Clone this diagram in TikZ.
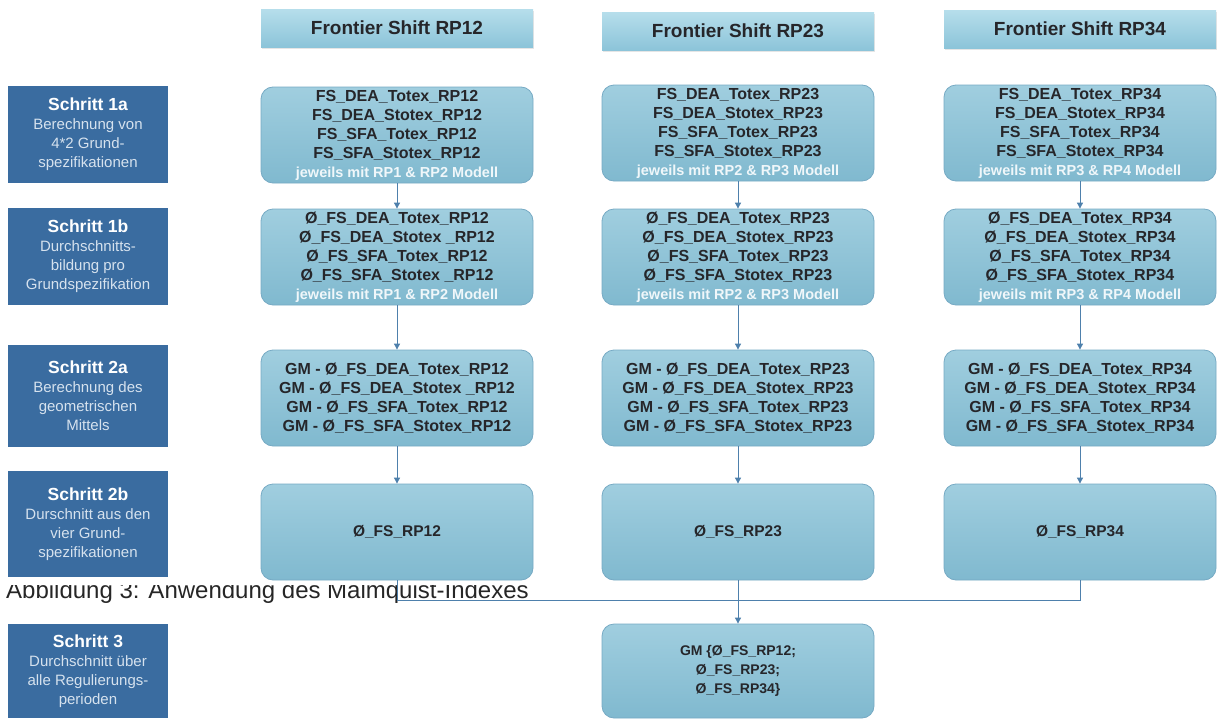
\documentclass[tikz,border=0pt]{standalone}
\usepackage{fontspec}
\setmainfont{Liberation Sans}
\usetikzlibrary{arrows.meta,shadows,calc}
\definecolor{stepblue}{RGB}{58,108,160}
\definecolor{stepsub}{RGB}{214,226,238}
\definecolor{headtop}{RGB}{182,222,235}
\definecolor{headbot}{RGB}{140,196,217}
\definecolor{bodytop}{RGB}{160,206,223}
\definecolor{bodybot}{RGB}{128,185,207}
\definecolor{bodyline}{RGB}{118,170,196}
\definecolor{arrowc}{RGB}{78,128,172}
\definecolor{txt}{RGB}{38,38,42}
\definecolor{jew}{RGB}{240,247,250}
\tikzset{
  stepbox/.style={rectangle, fill=stepblue, minimum width=160, minimum height=97,
    inner sep=0pt, align=center, text=white, font=\fontsize{15}{19}\selectfont},
  headbox/.style={rectangle, top color=headtop, bottom color=headbot,
    minimum width=272, minimum height=38, inner sep=0pt, text=txt,
    font=\fontsize{19}{22}\selectfont\bfseries,
    drop shadow={opacity=0.2, shadow xshift=1pt, shadow yshift=-2pt}},
  bodybox/.style={rectangle, rounded corners=12pt, top color=bodytop, bottom color=bodybot,
    draw=bodyline, line width=0.8pt, minimum width=272, minimum height=96, inner sep=0pt,
    align=center, text=txt, font=\fontsize{16}{19}\selectfont\bfseries},
  conn/.style={draw=arrowc, line width=0.9pt},
  arr/.style={conn, -{Triangle[length=6pt, width=6pt]}},
}
\newcommand{\myTitle}[1]{{\fontsize{17.5}{21}\selectfont\bfseries #1}}
\newcommand{\myJw}[1]{{\color{jew}\fontsize{14.5}{19}\selectfont #1}}
\begin{document}
\begin{tikzpicture}[x=1pt, y=-1pt]
\useasboundingbox (0,0) rectangle (1219,720);
\fill[white] (0,0) rectangle (1219,720);

% caption (partly hidden in the scan)
\begin{scope}
  \clip (0,585) rectangle (600,615);
  \node[anchor=base west, inner sep=0pt, text=black!85,
    font=\fontsize{24}{28}\selectfont] (cap) at (6,598) {Abbildung 3: Anwendung des Malmquist-Indexes};
\end{scope}

% step boxes
\node[stepbox] (s1a) at (88,134) {\myTitle{Schritt 1a}\\\textcolor{stepsub}{Berechnung von}\\\textcolor{stepsub}{4*2 Grund-}\\\textcolor{stepsub}{spezifikationen}};
\node[stepbox] (s1b) at (88,256) {\myTitle{Schritt 1b}\\\textcolor{stepsub}{Durchschnitts-}\\\textcolor{stepsub}{bildung pro}\\\textcolor{stepsub}{Grundspezifikation}};
\node[stepbox, minimum height=102] (s2a) at (88,396) {\myTitle{Schritt 2a}\\\textcolor{stepsub}{Berechnung des}\\\textcolor{stepsub}{geometrischen}\\\textcolor{stepsub}{Mittels}};
\node[stepbox, minimum height=106] (s2b) at (88,524) {\myTitle{Schritt 2b}\\\textcolor{stepsub}{Durschnitt aus den}\\\textcolor{stepsub}{vier Grund-}\\\textcolor{stepsub}{spezifikationen}};
\node[stepbox, minimum height=94] (s3) at (88,671) {\myTitle{Schritt 3}\\\textcolor{stepsub}{Durchschnitt über}\\\textcolor{stepsub}{alle Regulierungs-}\\\textcolor{stepsub}{perioden}};

% headers
\node[headbox] (h1) at (397,28) {Frontier Shift RP12};
\node[headbox] (h2) at (738,31) {Frontier Shift RP23};
\node[headbox] (h3) at (1080,29) {Frontier Shift RP34};

% row 1a
\node[bodybox] (a1) at (397,135) {FS\_DEA\_Totex\_RP12\\FS\_DEA\_Stotex\_RP12\\FS\_SFA\_Totex\_RP12\\FS\_SFA\_Stotex\_RP12\\\myJw{jeweils mit RP1 \& RP2 Modell}};
\node[bodybox] (a2) at (738,133) {FS\_DEA\_Totex\_RP23\\FS\_DEA\_Stotex\_RP23\\FS\_SFA\_Totex\_RP23\\FS\_SFA\_Stotex\_RP23\\\myJw{jeweils mit RP2 \& RP3 Modell}};
\node[bodybox] (a3) at (1080,133) {FS\_DEA\_Totex\_RP34\\FS\_DEA\_Stotex\_RP34\\FS\_SFA\_Totex\_RP34\\FS\_SFA\_Stotex\_RP34\\\myJw{jeweils mit RP3 \& RP4 Modell}};

% row 1b
\node[bodybox] (b1) at (397,257) {Ø\_FS\_DEA\_Totex\_RP12\\Ø\_FS\_DEA\_Stotex \_RP12\\Ø\_FS\_SFA\_Totex\_RP12\\Ø\_FS\_SFA\_Stotex \_RP12\\\myJw{jeweils mit RP1 \& RP2 Modell}};
\node[bodybox] (b2) at (738,257) {Ø\_FS\_DEA\_Totex\_RP23\\Ø\_FS\_DEA\_Stotex\_RP23\\Ø\_FS\_SFA\_Totex\_RP23\\Ø\_FS\_SFA\_Stotex\_RP23\\\myJw{jeweils mit RP2 \& RP3 Modell}};
\node[bodybox] (b3) at (1080,257) {Ø\_FS\_DEA\_Totex\_RP34\\Ø\_FS\_DEA\_Stotex\_RP34\\Ø\_FS\_SFA\_Totex\_RP34\\Ø\_FS\_SFA\_Stotex\_RP34\\\myJw{jeweils mit RP3 \& RP4 Modell}};

% row 2a
\node[bodybox] (c1) at (397,398) {GM - Ø\_FS\_DEA\_Totex\_RP12\\GM - Ø\_FS\_DEA\_Stotex \_RP12\\GM - Ø\_FS\_SFA\_Totex\_RP12\\GM - Ø\_FS\_SFA\_Stotex\_RP12};
\node[bodybox] (c2) at (738,398) {GM - Ø\_FS\_DEA\_Totex\_RP23\\GM - Ø\_FS\_DEA\_Stotex\_RP23\\GM - Ø\_FS\_SFA\_Totex\_RP23\\GM - Ø\_FS\_SFA\_Stotex\_RP23};
\node[bodybox] (c3) at (1080,398) {GM - Ø\_FS\_DEA\_Totex\_RP34\\GM - Ø\_FS\_DEA\_Stotex\_RP34\\GM - Ø\_FS\_SFA\_Totex\_RP34\\GM - Ø\_FS\_SFA\_Stotex\_RP34};

% row 2b
\node[bodybox, font=\fontsize{15.5}{18}\selectfont\bfseries] (d1) at (397,532) {Ø\_FS\_RP12};
\node[bodybox, font=\fontsize{15.5}{18}\selectfont\bfseries] (d2) at (738,532) {Ø\_FS\_RP23};
\node[bodybox, font=\fontsize{15.5}{18}\selectfont\bfseries] (d3) at (1080,532) {Ø\_FS\_RP34};

% row 3
\node[bodybox, minimum height=94, font=\fontsize{14}{19}\selectfont\bfseries] (e2) at (738,671) {GM \{Ø\_FS\_RP12;\\Ø\_FS\_RP23;\\Ø\_FS\_RP34\}};

% connectors
\foreach \u/\v in {a1/b1,b1/c1,c1/d1,a2/b2,b2/c2,c2/d2,a3/b3,b3/c3,c3/d3}
  \draw[arr] (\u.south) -- (\v.north);
\coordinate (j1) at ($(d1.south)+(0,20)$);
\draw[conn] (d1.south) |- (d3.south |- j1) -- (d3.south);
\draw[arr] (d2.south) -- (e2.north);
\end{tikzpicture}
\end{document}
